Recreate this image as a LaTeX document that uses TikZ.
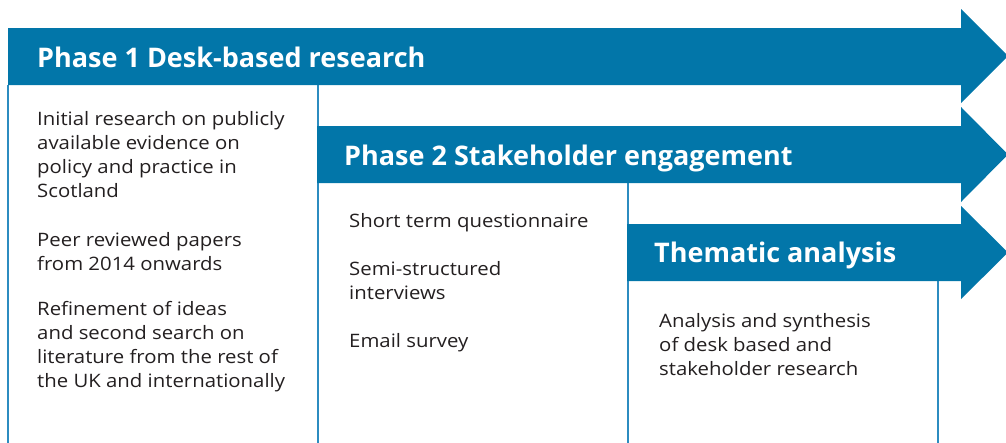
\documentclass[tikz,border=0pt]{standalone}
\usepackage{fontspec}
\setmainfont{Open Sans}
\newfontfamily\bodyfont[FakeStretch=1.1]{Open Sans}
\definecolor{pblue}{HTML}{0276A9}
\definecolor{pline}{HTML}{2C8CC0}
\definecolor{ptext}{HTML}{231F20}
\begin{document}
\begin{tikzpicture}[x=1pt,y=-1pt,
  arrowshape/.style={fill=pblue},
  boxline/.style={draw=pline, line width=1.2pt},
  head/.style={anchor=base west, text=white, inner sep=0pt, font=\fontsize{27}{30}\selectfont\bfseries},
  body/.style={anchor=base west, align=left, text=ptext, inner sep=0pt, font=\bodyfont\fontsize{18.5}{24}\selectfont}]
\useasboundingbox (0,0) rectangle (1006,442);
% box lines
\draw[boxline] (8,85) -- (8,443);
\draw[boxline] (318,85) -- (318,443);
\draw[boxline] (628,183) -- (628,443);
\draw[boxline] (938,281) -- (938,443);
% arrows
\fill[arrowshape] (8,28) -- (961,28) -- (961,9) -- (1008,56) -- (961,103) -- (961,85) -- (8,85) -- cycle;
\fill[arrowshape] (317,126) -- (961,126) -- (961,107) -- (1008,154.5) -- (961,202) -- (961,183) -- (317,183) -- cycle;
\fill[arrowshape] (627,224) -- (961,224) -- (961,206) -- (1008,252.5) -- (961,299) -- (961,281) -- (627,281) -- cycle;
% headers
\node[head] (h1) at (37,67) {Phase 1 Desk-based research};
\node[head] (h2) at (344,165) {Phase 2 Stakeholder engagement};
\node[head] (h3) at (654,262) {Thematic analysis};
% body (positions are the baseline of the last line)
\node[body] (b1a) at (37,197) {Initial research on publicly\\available evidence on\\policy and practice in\\Scotland};
\node[body] (b1b) at (37,270) {Peer reviewed papers\\from 2014 onwards};
\node[body] (b1c) at (37,387) {Refinement of ideas\\and second search on\\literature from the rest of\\the UK and internationally};
\node[body] (b2a) at (349,227) {Short term questionnaire};
\node[body] (b2b) at (349,299) {Semi-structured\\interviews};
\node[body] (b2c) at (349,347) {Email survey};
\node[body] (b3a) at (659,375) {Analysis and synthesis\\of desk based and\\stakeholder research};
\end{tikzpicture}
\end{document}
